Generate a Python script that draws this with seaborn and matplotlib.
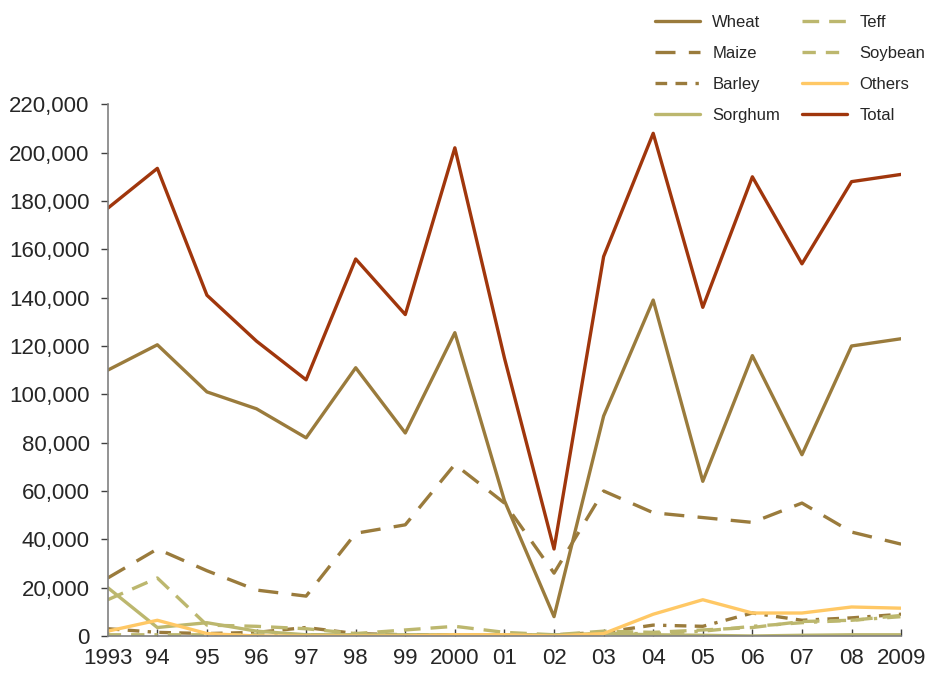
import pandas as pd
import seaborn as sns
import matplotlib.pyplot as plt
from matplotlib.ticker import FuncFormatter

years = list(range(1993, 2010))
year_labels = ["1993", "94", "95", "96", "97", "98", "99", "2000", "01",
               "02", "03", "04", "05", "06", "07", "08", "2009"]

wheat = [110000, 120500, 101000, 94000, 82000, 111000, 84000, 125500, 56000,
         8000, 91000, 139000, 64000, 116000, 75000, 120000, 123000]
maize = [24000, 36000, 27000, 19000, 16500, 42500, 46000, 71000, 55000,
         26000, 60000, 51000, 49000, 47000, 55000, 43000, 38000]
barley = [3000, 1500, 1000, 1500, 3500, 1000, 500, 500, 500,
          500, 1500, 4500, 4000, 9500, 6500, 7500, 9000]
sorghum = [20000, 3500, 5500, 2000, 500, 500, 500, 500, 500,
           500, 1000, 500, 300, 0, 300, 500, 500]
teff = [15000, 24000, 4500, 4000, 3000, 1000, 2500, 4000, 1500,
        500, 2000, 1500, 2500, 3500, 6000, 6500, 8500]
soybean = [500, 500, 500, 500, 500, 300, 300, 300, 300,
           300, 1000, 1000, 2000, 4000, 5500, 6500, 8000]
others = [2000, 6500, 1000, 0, 0, 0, 0, 500, 500,
          0, 1000, 9000, 15000, 9500, 9500, 12000, 11500]
total = [177000, 193500, 141000, 122000, 106000, 156000, 133000, 202000, 115000,
         36000, 157000, 208000, 136000, 190000, 154000, 188000, 191000]

series = [
    ("Wheat", wheat, "#9a7b3c", "-"),
    ("Maize", maize, "#9a7b3c", (0, (6, 4))),
    ("Barley", barley, "#9a7b3c", (0, (3.5, 2.5, 3.5, 2.5, 1, 2.5))),
    ("Sorghum", sorghum, "#bcb76e", "-"),
    ("Teff", teff, "#bcb76e", (0, (5, 3))),
    ("Soybean", soybean, "#bcb76e", (0, (4, 3, 4, 3, 1, 3))),
    ("Others", others, "#ffc865", "-"),
    ("Total", total, "#a0360c", "-"),
]

sns.set_style("white")
plt.rcParams["font.family"] = ["Liberation Sans", "DejaVu Sans"]

fig = plt.figure(figsize=(9.29, 6.73), dpi=100)
ax = fig.add_axes([0.116, 0.055, 0.854, 0.79])

for name, vals, color, ls in series:
    df = pd.DataFrame({"year": years, "value": vals})
    sns.lineplot(data=df, x="year", y="value", ax=ax, color=color,
                 linestyle=ls, linewidth=2.4, label=name)

ax.set_xlim(1993, 2009)
ax.set_ylim(0, 220000)
ax.set_yticks(range(0, 220001, 20000))
ax.yaxis.set_major_formatter(FuncFormatter(lambda v, p: f"{int(v):,}"))
ax.set_xticks(years)
ax.set_xticklabels(year_labels)
ax.set_xlabel("")
ax.set_ylabel("")

for side in ["top", "right"]:
    ax.spines[side].set_visible(False)
for side in ["left", "bottom"]:
    ax.spines[side].set_color("#808080")
    ax.spines[side].set_linewidth(1.2)

ax.tick_params(axis="y", direction="out", length=5, width=1, color="#404040",
               labelsize=16, left=True, pad=8)
ax.tick_params(axis="x", direction="in", length=5, width=1, color="#404040",
               labelsize=16, bottom=True, pad=9)

handles, labels = ax.get_legend_handles_labels()
ax.get_legend().remove()
fig.legend(handles, labels, ncol=2, loc="upper right",
           bbox_to_anchor=(1.012, 1.0), frameon=False, fontsize=12,
           handlelength=2.7, handletextpad=0.75, columnspacing=1.3,
           labelspacing=0.95)

plt.savefig("out.png", dpi=100)
